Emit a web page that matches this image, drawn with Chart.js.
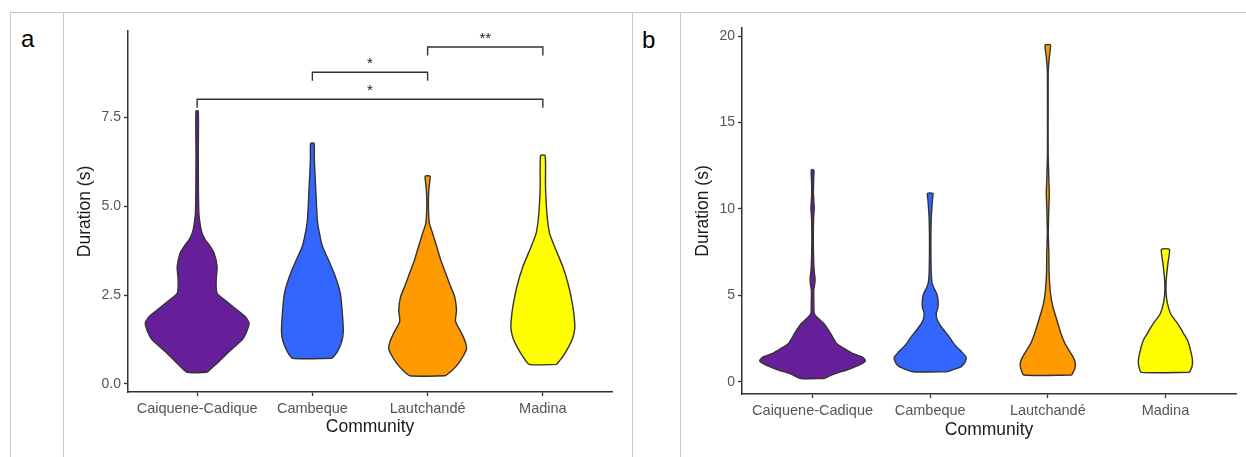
<!DOCTYPE html>
<html>
<head>
<meta charset="utf-8">
<script src="https://cdn.jsdelivr.net/npm/chart.js@4.4.1/dist/chart.umd.min.js"></script>
<style>
  body { margin: 0; background: #fff; width: 1246px; height: 457px; overflow: hidden; position: relative; font-family: "Liberation Sans", Arial, sans-serif; }
  .hline { position: absolute; left: 10px; top: 12px; width: 1236px; height: 1px; background: #c8c8c8; }
  .vline { position: absolute; top: 12px; width: 1px; height: 445px; background: #c8c8c8; }
  .panel-tag { position: absolute; font-size: 24px; line-height: 24px; color: #000; }
  canvas { position: absolute; }
</style>
</head>
<body>
<div class="hline"></div>
<div class="vline" style="left:10px"></div>
<div class="vline" style="left:63px"></div>
<div class="vline" style="left:632px"></div>
<div class="vline" style="left:680px"></div>
<div class="panel-tag" style="left:21px; top:27px">a</div>
<div class="panel-tag" style="left:642px; top:28px">b</div>
<canvas id="chartA" width="569" height="445" style="left:64px; top:12px"></canvas>
<canvas id="chartB" width="565" height="445" style="left:681px; top:12px"></canvas>
<script>
const categories = ["Caiquene-Cadique", "Cambeque", "Lautchandé", "Madina"];
const fillColors = ["#661f99", "#3366ff", "#ff9a00", "#ffff00"];

// panel a - duration levels (s) and violin half widths (category units)
const aCaiqY = [0.33, 0.58, 0.86, 1.24, 1.5, 1.71, 1.9, 2.08, 2.37, 2.55, 2.74, 2.93, 3.3, 3.68, 3.87, 4.06, 4.24, 4.43, 4.8, 5.5, 6.5, 7.67];
const aCaiqW = [0.087, 0.173, 0.26, 0.39, 0.433, 0.45, 0.416, 0.346, 0.234, 0.173, 0.165, 0.165, 0.173, 0.147, 0.113, 0.069, 0.043, 0.029, 0.015, 0.011, 0.010, 0.010];
const aCambY = [0.72, 0.9, 1.2, 1.47, 1.99, 2.55, 3.02, 3.49, 3.87, 4.24, 4.6, 5.5, 6.3, 6.76];
const aCambW = [0.171, 0.216, 0.255, 0.268, 0.26, 0.242, 0.199, 0.139, 0.087, 0.061, 0.043, 0.029, 0.017, 0.015];
const aLautY = [0.23, 0.39, 0.58, 0.8, 1.0, 1.2, 1.43, 1.76, 2.08, 2.46, 2.74, 3.12, 3.49, 3.87, 4.24, 4.52, 5.0, 5.37, 5.65, 5.84];
const aLautW = [0.154, 0.216, 0.268, 0.312, 0.338, 0.325, 0.294, 0.242, 0.251, 0.234, 0.199, 0.156, 0.113, 0.078, 0.043, 0.015, 0.007, 0.009, 0.017, 0.021];
const aMadiY = [0.55, 0.77, 1.05, 1.3, 1.57, 1.85, 2.18, 2.74, 3.3, 3.77, 4.24, 4.8, 5.56, 6.42];
const aMadiW = [0.119, 0.173, 0.225, 0.26, 0.277, 0.273, 0.26, 0.225, 0.173, 0.113, 0.058, 0.035, 0.023, 0.02];
const aTicks = [0, 2.5, 5, 7.5];

// significance brackets on panel a
const bracketFrom = [1, 2, 3];
const bracketTo = [4, 3, 4];
const bracketY = [8.0, 8.76, 9.47];
const bracketText = ["*", "*", "**"];

// panel b
const bCaiqY = [0.19, 0.45, 0.68, 0.95, 1.22, 1.45, 1.64, 1.95, 2.22, 2.8, 3.38, 3.76, 3.95, 4.53, 5.3, 5.69, 5.98, 6.37, 7.04, 8.2, 9.36, 9.74, 10.03, 10.42, 10.9, 11.67, 12.25];
const bCaiqW = [0.1, 0.187, 0.289, 0.391, 0.45, 0.417, 0.34, 0.264, 0.204, 0.153, 0.094, 0.034, 0.014, 0.011, 0.01, 0.019, 0.021, 0.014, 0.009, 0.006, 0.008, 0.011, 0.014, 0.011, 0.007, 0.009, 0.011];
const bCambY = [0.58, 0.87, 1.15, 1.41, 1.7, 1.93, 2.25, 2.6, 3.18, 3.57, 3.95, 4.25, 4.53, 4.85, 5.1, 5.4, 5.69, 6.27, 7.5, 8.4, 9.2, 9.74, 10.5, 10.9];
const bCambW = [0.145, 0.264, 0.298, 0.306, 0.272, 0.238, 0.196, 0.162, 0.094, 0.06, 0.051, 0.064, 0.068, 0.064, 0.055, 0.034, 0.017, 0.009, 0.006, 0.006, 0.008, 0.011, 0.019, 0.023];
const bLautY = [0.39, 0.77, 1.06, 1.35, 1.64, 2.22, 2.8, 3.57, 4.34, 5.1, 6.27, 7.43, 8.6, 10.1, 10.9, 11.67, 13.2, 16.1, 18.0, 18.8, 19.48];
const bLautW = [0.204, 0.23, 0.234, 0.221, 0.196, 0.145, 0.111, 0.077, 0.043, 0.023, 0.011, 0.009, 0.004, 0.009, 0.013, 0.009, 0.003, 0.003, 0.004, 0.013, 0.023];
const bMadiY = [0.54, 0.85, 1.25, 1.83, 2.41, 2.8, 3.1, 3.38, 3.65, 3.95, 4.53, 5.1, 5.6, 6.08, 6.85, 7.66];
const bMadiW = [0.204, 0.225, 0.23, 0.213, 0.187, 0.153, 0.128, 0.102, 0.072, 0.043, 0.017, 0.006, 0.005, 0.009, 0.021, 0.034];
const bTicks = [0, 5, 10, 15, 20];

const FONT = '"Liberation Sans", Arial, sans-serif';
const INK = "#333333";

// outline of one violin: up the right side, down the left side, closed
function violinPoints(center, ys, ws) {
  const right = ys.map((y, i) => ({ x: center + ws[i], y: y }));
  const left = ys.map((y, i) => ({ x: center - ws[i], y: y })).reverse();
  return right.concat(left, [right[0]]);
}

function violinSets(list) {
  return list.map((v, i) => ({
    data: violinPoints(i + 1, v[0], v[1]),
    showLine: true,
    fill: "shape",
    backgroundColor: fillColors[i],
    borderColor: INK,
    borderWidth: 1.4,
    pointRadius: 0,
    tension: 0.2,
  }));
}

function bracketSets() {
  const drop = 0.24;
  return bracketY.map((y, i) => ({
    data: [
      { x: bracketFrom[i], y: y - drop },
      { x: bracketFrom[i], y: y },
      { x: bracketTo[i], y: y },
      { x: bracketTo[i], y: y - drop },
    ],
    showLine: true,
    fill: false,
    borderColor: INK,
    borderWidth: 1.4,
    pointRadius: 0,
    tension: 0,
  }));
}

const sigLabels = {
  id: "sigLabels",
  afterDatasetsDraw(chart) {
    if (chart.canvas.id !== "chartA") return;
    const { ctx, scales } = chart;
    ctx.save();
    ctx.font = "15px " + FONT;
    ctx.fillStyle = "#1a1a1a";
    ctx.textAlign = "center";
    ctx.textBaseline = "alphabetic";
    bracketY.forEach((y, i) => {
      const px = scales.x.getPixelForValue((bracketFrom[i] + bracketTo[i]) / 2);
      const py = scales.y.getPixelForValue(y);
      ctx.fillText(bracketText[i], px, py - 4);
    });
    ctx.restore();
  },
};

function makeOptions(cfg) {
  return {
    responsive: false,
    maintainAspectRatio: false,
    animation: false,
    layout: { padding: { left: 0, right: cfg.padRight, top: cfg.padTop, bottom: 0 } },
    plugins: { legend: { display: false }, tooltip: { enabled: false } },
    scales: {
      x: {
        type: "linear",
        min: 0.4,
        max: 4.6,
        afterBuildTicks: (s) => { s.ticks = categories.map((c, i) => ({ value: i + 1 })); },
        afterFit: (s) => { s.height = cfg.xHeight; },
        ticks: {
          callback: (v, i) => categories[i],
          color: "#555",
          font: { family: FONT, size: 14.5 },
          padding: 4,
          autoSkip: false,
          maxRotation: 0,
        },
        grid: { display: true, drawOnChartArea: false, drawTicks: true, tickLength: 4, tickWidth: 1.3, tickColor: INK },
        border: { display: true, color: INK, width: 1.5 },
        title: { display: true, text: "Community", color: "#1a1a1a", font: { family: FONT, size: 17.5 }, padding: { top: 0, bottom: cfg.xTitlePad } },
      },
      y: {
        type: "linear",
        min: cfg.yMin,
        max: cfg.yMax,
        afterBuildTicks: (s) => { s.ticks = cfg.ticks.map((v) => ({ value: v })); },
        afterFit: (s) => { s.width = cfg.yWidth; },
        ticks: {
          callback: cfg.fmt,
          color: "#555",
          font: { family: FONT, size: 14 },
          padding: 3,
        },
        grid: { display: true, drawOnChartArea: false, drawTicks: true, tickLength: 4, tickWidth: 1.3, tickColor: INK },
        border: { display: true, color: INK, width: 1.5 },
        title: { display: true, text: "Duration (s)", color: "#1a1a1a", font: { family: FONT, size: 17.5 }, padding: { top: cfg.yTitlePad, bottom: 0 } },
      },
    },
  };
}

new Chart(document.getElementById("chartA"), {
  type: "scatter",
  data: {
    datasets: violinSets([[aCaiqY, aCaiqW], [aCambY, aCambW], [aLautY, aLautW], [aMadiY, aMadiW]]).concat(bracketSets()),
  },
  options: makeOptions({
    padRight: 21, padTop: 19, xHeight: 65, yWidth: 64, xTitlePad: 19.5, yTitlePad: 10.5,
    yMin: -0.225, yMax: 9.92, ticks: aTicks, fmt: (v) => v.toFixed(1),
  }),
  plugins: [sigLabels],
});

new Chart(document.getElementById("chartB"), {
  type: "scatter",
  data: {
    datasets: violinSets([[bCaiqY, bCaiqW], [bCambY, bCambW], [bLautY, bLautW], [bMadiY, bMadiW]]),
  },
  options: makeOptions({
    padRight: 10, padTop: 16, xHeight: 63, yWidth: 61, xTitlePad: 16.5, yTitlePad: 11.5,
    yMin: -0.71, yMax: 20.47, ticks: bTicks, fmt: (v) => String(v),
  }),
});
</script>
</body>
</html>
